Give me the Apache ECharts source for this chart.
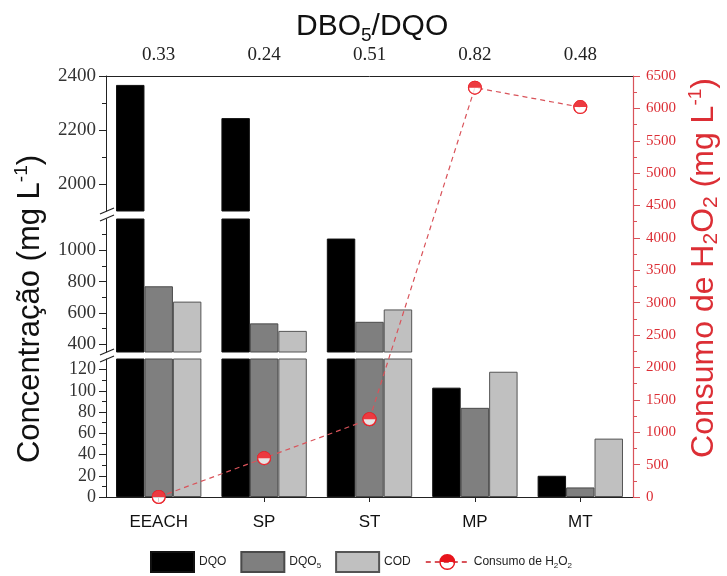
<!DOCTYPE html>
<html>
<head>
<meta charset="utf-8">
<script src="https://cdn.jsdelivr.net/npm/echarts@6/dist/echarts.min.js"></script>
<style>html,body{margin:0;padding:0;background:#fff}#c{width:727px;height:576px}</style>
</head>
<body>
<div id="c"></div>
<script>
// ---- data ----
const categories = ['EEACH', 'SP', 'ST', 'MP', 'MT'];
const ratioLabels = ['0.33', '0.24', '0.51', '0.82', '0.48'];
const dqo  = [2367, 2244, 1075, 103, 20];
const dqo5 = [770, 533, 543, 84, 9];
const cod  = [672, 485, 622, 118, 55];
const h2o2 = [0, 600, 1200, 6320, 6020];

// axis segments (broken left axis)
const topRange = [1900, 2400];
const topMajor = [2000, 2200, 2400];
const topMinor = [2100, 2300];
const midRange = [350, 1200];
const midMajor = [400, 600, 800, 1000];
const midMinor = [500, 700, 900, 1100];
const botRange = [0, 130];
const botMajor = [0, 20, 40, 60, 80, 100, 120];
const botMinor = [10, 30, 50, 70, 90, 110];
const rightMax = 6500;
const rightInterval = 500;

// ---- layout ----
const L = 106, R = 727 - 633;
const segGrids = [
  { top: 76, height: 135 },
  { top: 219, height: 133 },
  { top: 359, height: 138 }
];
const segs = [
  { range: topRange, major: topMajor, minor: topMinor, fs: 19 },
  { range: midRange, major: midMajor, minor: midMinor, fs: 19 },
  { range: botRange, major: botMajor, minor: botMinor, fs: 18 }
];
const RED = '#dc2e35';
const RED_LINE = '#d9535a';
const SERIF = 'Liberation Serif';
const SANS = 'Liberation Sans';
const plain = v => String(v);

const grid = [{ left: L, right: R, top: 76, bottom: 576 - 497 }];
segGrids.forEach(g => grid.push({ left: L, right: R, top: g.top, height: g.height }));

const xAxis = [{
  gridIndex: 0, type: 'category', position: 'top', data: ratioLabels,
  axisLine: { onZero: false, lineStyle: { color: '#222', width: 1 } },
  axisTick: { alignWithLabel: true, length: 7, lineStyle: { color: '#222' } },
  axisLabel: { fontFamily: SERIF, fontSize: 19, color: '#222', margin: 11 }
}];
segs.forEach((s, i) => {
  const isBottom = i === 2;
  xAxis.push({
    gridIndex: i + 1, type: 'category', position: 'bottom', data: categories,
    show: isBottom,
    axisLine: { show: isBottom, onZero: false, lineStyle: { color: '#222', width: 1 } },
    axisTick: { show: isBottom, alignWithLabel: true, length: 5, lineStyle: { color: '#222' } },
    axisLabel: { show: isBottom, fontFamily: SANS, fontSize: 17, color: '#111', margin: 17 }
  });
});

const yAxis = [{
  gridIndex: 0, type: 'value', position: 'right', min: 0, max: rightMax, interval: rightInterval,
  axisLine: { show: true, lineStyle: { color: RED_LINE, width: 1.2 } },
  axisTick: { show: true, length: 7, lineStyle: { color: RED_LINE } },
  minorTick: { show: true, splitNumber: 2, length: 4, lineStyle: { color: RED_LINE } },
  axisLabel: { fontFamily: SERIF, fontSize: 15, color: RED, margin: 13, formatter: plain },
  splitLine: { show: false }
}];
const segYIndex = [];
segs.forEach((s, i) => {
  segYIndex.push(yAxis.length);
  yAxis.push({
    gridIndex: i + 1, type: 'value', position: 'left', min: s.range[0], max: s.range[1],
    axisLine: { show: true, onZero: false, lineStyle: { color: '#222', width: 1 } },
    axisTick: { show: true, length: 7, customValues: s.major, lineStyle: { color: '#222' } },
    axisLabel: { customValues: s.major, fontFamily: SERIF, fontSize: s.fs, color: '#333', margin: 10, formatter: plain },
    splitLine: { show: false }
  });
  yAxis.push({
    gridIndex: i + 1, type: 'value', position: 'left', min: s.range[0], max: s.range[1],
    axisLine: { show: false },
    axisTick: { show: true, length: 4, customValues: s.minor, lineStyle: { color: '#222' } },
    axisLabel: { show: false },
    splitLine: { show: false }
  });
});

const barDefs = [
  { name: 'DQO', data: dqo, color: '#000000', border: '#111111' },
  { name: 'DQO5', data: dqo5, color: '#7f7f7f', border: '#4a4a4a' },
  { name: 'COD', data: cod, color: '#c0c0c0', border: '#555555' }
];
const series = [];
segs.forEach((s, i) => {
  barDefs.forEach(b => {
    series.push({
      name: b.name, type: 'bar', xAxisIndex: i + 1, yAxisIndex: segYIndex[i],
      data: b.data.map(v => (v > s.range[0] ? v : '-')),
      barGap: '0%', barCategoryGap: '19%', clip: true,
      itemStyle: { color: b.color, borderColor: b.border, borderWidth: 1 },
      z: 2
    });
  });
});

const halfMarker = 'path://M10 0A10 10 0 1 1 10 20A10 10 0 1 1 10 0Z M10 1.8A8.2 8.2 0 1 0 10 18.2A8.2 8.2 0 1 0 10 1.8Z M1.8 10A8.2 8.2 0 0 1 18.2 10Z';
series.push({
  name: 'Consumo de H2O2', type: 'line', xAxisIndex: 0, yAxisIndex: 0, data: h2o2,
  symbol: halfMarker, symbolSize: 14,
  itemStyle: { color: '#e8141c' },
  lineStyle: { color: RED_LINE, width: 1.2, type: [5, 4] },
  z: 4
});
series.push({
  type: 'scatter', xAxisIndex: 0, yAxisIndex: 0, data: h2o2,
  symbol: 'circle', symbolSize: 13, itemStyle: { color: '#ffffff' }, z: 5, silent: true
});
series.push({
  type: 'scatter', xAxisIndex: 0, yAxisIndex: 0, data: h2o2,
  symbol: halfMarker, symbolSize: 14, itemStyle: { color: '#e8141c' }, z: 6, silent: true
});

const legendRich = {
  t: { fontFamily: SANS, fontSize: 12, color: '#222', lineHeight: 16 },
  s: { fontFamily: SANS, fontSize: 8, color: '#222', verticalAlign: 'bottom', lineHeight: 10 }
};

const option = {
  backgroundColor: '#ffffff',
  animation: false,
  title: {
    text: '{t|DBO}{s|5}{t|/DQO}',
    left: 291, top: 4,
    textStyle: {
      rich: {
        t: { fontFamily: SANS, fontSize: 30, fontWeight: 'normal', color: '#111', lineHeight: 36 },
        s: { fontFamily: SANS, fontSize: 19, fontWeight: 'normal', color: '#111', verticalAlign: 'bottom', lineHeight: 22 }
      }
    }
  },
  legend: {
    data: [
      { name: 'DQO', icon: 'rect' },
      { name: 'DQO5', icon: 'rect' },
      { name: 'COD', icon: 'rect' },
      { name: 'Consumo de H2O2' }
    ],
    left: 150, top: 551, padding: 0,
    itemWidth: 43, itemHeight: 20, itemGap: 14,
    textStyle: { rich: legendRich },
    formatter: function (name) {
      if (name === 'DQO5') return '{t|DQO}{s|5}';
      if (name === 'Consumo de H2O2') return '{t|Consumo de H}{s|2}{t|O}{s|2}';
      return '{t|' + name + '}';
    }
  },
  grid: grid,
  xAxis: xAxis,
  yAxis: yAxis,
  series: series,
  graphic: [
    { type: 'line', silent: true, shape: { x1: 100, y1: 214, x2: 114, y2: 208 }, style: { stroke: '#222', lineWidth: 1.2 } },
    { type: 'line', silent: true, shape: { x1: 100, y1: 221, x2: 114, y2: 215 }, style: { stroke: '#222', lineWidth: 1.2 } },
    { type: 'line', silent: true, shape: { x1: 100, y1: 355, x2: 114, y2: 349 }, style: { stroke: '#222', lineWidth: 1.2 } },
    { type: 'line', silent: true, shape: { x1: 100, y1: 362, x2: 114, y2: 356 }, style: { stroke: '#222', lineWidth: 1.2 } },
    {
      type: 'text', silent: true, x: 30, y: 309, rotation: Math.PI / 2,
      style: {
        text: '{t|Concentração (mg L}{p|-1}{t|)}',
        align: 'center', verticalAlign: 'middle',
        rich: {
          t: { fontFamily: SANS, fontSize: 31, fill: '#111', lineHeight: 36 },
          p: { fontFamily: SANS, fontSize: 19, fill: '#111', verticalAlign: 'top', lineHeight: 18 }
        }
      }
    },
    {
      type: 'text', silent: true, x: 704, y: 268, rotation: Math.PI / 2,
      style: {
        text: '{t|Consumo de H}{s|2}{t|O}{s|2}{t| (mg L}{p|-1}{t|)}',
        align: 'center', verticalAlign: 'middle',
        rich: {
          t: { fontFamily: SANS, fontSize: 32, fill: RED, lineHeight: 36 },
          s: { fontFamily: SANS, fontSize: 21, fill: RED, verticalAlign: 'bottom', lineHeight: 26 },
          p: { fontFamily: SANS, fontSize: 19, fill: RED, verticalAlign: 'top', lineHeight: 18 }
        }
      }
    }
  ]
};

const chart = echarts.init(document.getElementById('c'), null, { renderer: 'canvas' });
chart.setOption(option);
</script>
</body>
</html>
